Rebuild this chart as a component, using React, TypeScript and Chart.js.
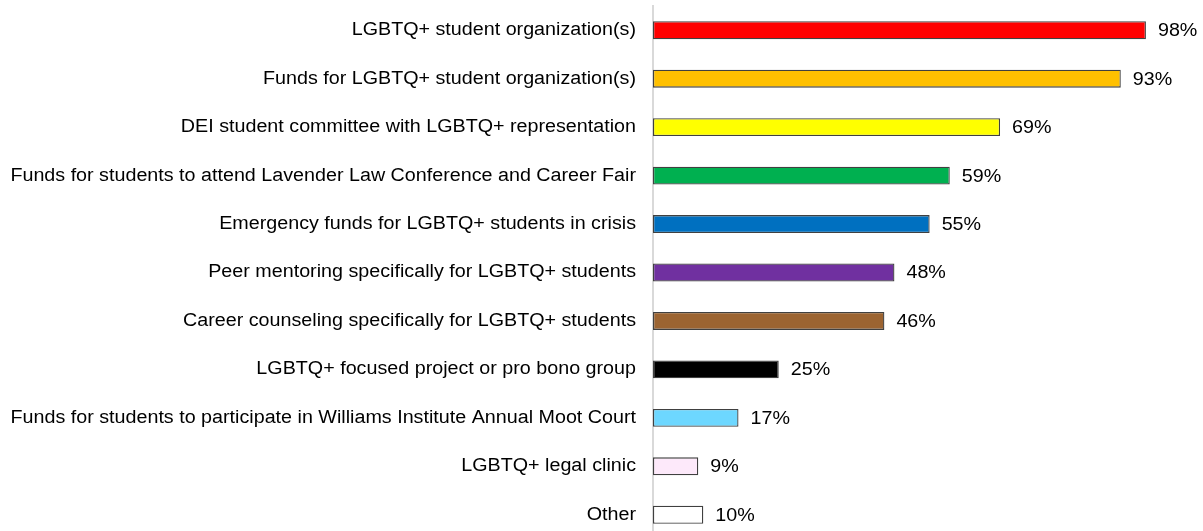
import React, { useEffect, useRef } from "react";
import { Chart, registerables } from "chart.js";

Chart.register(...registerables);

const categories = [
  "LGBTQ+ student organization(s)",
  "Funds for LGBTQ+ student organization(s)",
  "DEI student committee with LGBTQ+ representation",
  "Funds for students to attend Lavender Law Conference and Career Fair",
  "Emergency funds for LGBTQ+ students in crisis",
  "Peer mentoring specifically for LGBTQ+ students",
  "Career counseling specifically for LGBTQ+ students",
  "LGBTQ+ focused project or pro bono group",
  "Funds for students to participate in Williams Institute Annual Moot Court",
  "LGBTQ+ legal clinic",
  "Other",
];

const values = [98, 93, 69, 59, 55, 48, 46, 25, 17, 9, 10];

const barColors = [
  "#FF0000",
  "#FFC000",
  "#FFFF00",
  "#00B050",
  "#0070C0",
  "#7030A0",
  "#9C6431",
  "#000000",
  "#6DD7FF",
  "#FDE9FA",
  "#FFFFFF",
];

const FONT = "'Liberation Sans', Arial, sans-serif";
const STRETCH = 1.095;

const textPlugin = {
  id: "textPlugin",
  afterDatasetsDraw(chart: any) {
    const ctx = chart.ctx;
    const meta = chart.getDatasetMeta(0);
    const yScale = chart.scales.y;
    const left = chart.chartArea.left;
    ctx.save();
    ctx.font = `18px ${FONT}`;
    ctx.fillStyle = "#000000";
    ctx.textBaseline = "middle";
    meta.data.forEach((bar: any, i: number) => {
      // value label
      ctx.save();
      ctx.translate(bar.x + 12, bar.y + 1);
      ctx.scale(STRETCH, 1);
      ctx.textAlign = "left";
      ctx.fillText(values[i] + "%", 0, 0);
      ctx.restore();
      // category label
      const y = yScale.getPixelForValue(i);
      ctx.save();
      ctx.translate(left - 17, y);
      ctx.scale(STRETCH, 1);
      ctx.textAlign = "right";
      ctx.fillText(categories[i], 0, 0);
      ctx.restore();
    });
    ctx.restore();
  },
};

export default function App() {
  const ref = useRef<HTMLCanvasElement>(null);

  useEffect(() => {
    document.body.style.margin = "0";
    document.body.style.overflow = "hidden";
    const chart = new Chart(ref.current!, {
      type: "bar",
      data: {
        labels: categories,
        datasets: [
          {
            data: values,
            backgroundColor: barColors,
            borderColor: "#404040",
            borderWidth: 1.3,
            borderSkipped: false,
            categoryPercentage: 1,
            barPercentage: 0.37,
          },
        ],
      },
      options: {
        indexAxis: "y",
        animation: false,
        responsive: false,
        maintainAspectRatio: false,
        layout: { padding: { top: 6, right: 47, bottom: 0, left: 653 } },
        plugins: {
          legend: { display: false },
          tooltip: { enabled: false },
        },
        scales: {
          x: {
            display: false,
            min: 0,
            max: 100,
          },
          y: {
            grid: { display: false, drawTicks: false },
            border: { display: true, color: "#d9d9d9", width: 2 },
            ticks: { display: false },
          },
        },
      },
      plugins: [textPlugin],
    });
    return () => chart.destroy();
  }, []);

  return (
    <div style={{ width: 1203, height: 531, overflow: "hidden" }}>
      <canvas ref={ref} width={1203} height={539} style={{ display: "block" }} />
    </div>
  );
}
